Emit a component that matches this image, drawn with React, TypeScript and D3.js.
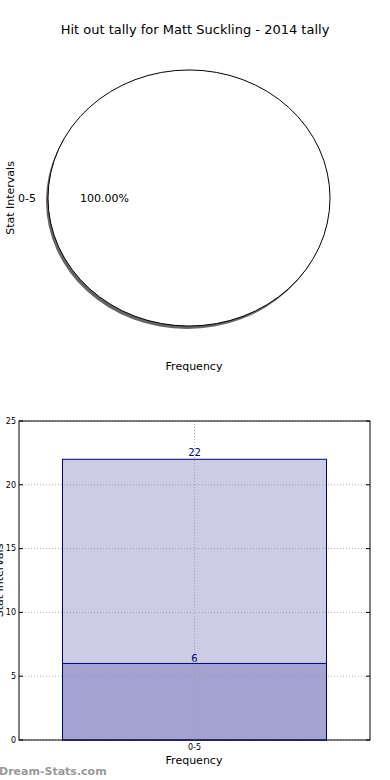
import React from 'react';
import * as d3 from 'd3';

const TITLE = 'Hit out tally for Matt Suckling - 2014 tally';
const intervals = ['0-5'];
const pieShares = [100];
const totalValues = [22];
const yearValues = [6];
const yTicks = [0, 5, 10, 15, 20, 25];

const FONT = 'DejaVu Sans, sans-serif';

export default function App() {
  // pie geometry
  const cx = 189;
  const cy = 198;
  const rx = 141;
  const ry = 128;

  const pie = d3.pie<number>().sort(null).startAngle(-Math.PI / 2).endAngle((3 * Math.PI) / 2);
  const slices = pie(pieShares);
  const arc = d3.arc<d3.PieArcDatum<number>>().innerRadius(0).outerRadius(rx);
  const total = d3.sum(pieShares);

  // bar geometry
  const plot = { left: 19, right: 370, top: 421, bottom: 740 };
  const x = d3.scaleBand().domain(intervals).range([plot.left, plot.right]).paddingInner(0).paddingOuter(0.1225);
  const xCenter = (d: string) => (x(d) ?? 0) + x.bandwidth() / 2;
  const y = d3.scaleLinear().domain([0, 25]).range([plot.bottom, plot.top]);
  const barW = 264;

  return (
    <svg width={390} height={780} style={{ position: 'absolute', left: 0, top: 0, background: '#fff' }} fontFamily={FONT}>
      <rect width={390} height={780} fill="#fff" />
      <text x={195} y={34} textAnchor="middle" fontSize={13} fill="#000">
        {TITLE}
      </text>

      {/* pie */}
      <g transform={`translate(${cx - 2},${cy + 3}) scale(1,${ry / rx})`}>
        {slices.map((s, i) => (
          <path key={'sh' + i} d={arc(s) ?? ''} fill="#666" />
        ))}
      </g>
      <g transform={`translate(${cx},${cy}) scale(1,${ry / rx})`}>
        {slices.map((s, i) => (
          <path key={i} d={arc(s) ?? ''} fill="#fff" stroke="#000" strokeWidth={1} vectorEffect="non-scaling-stroke" />
        ))}
      </g>
      {slices.map((s, i) => {
        const mid = (s.startAngle + s.endAngle) / 2 + Math.PI;
        const lx = cx + Math.sin(mid) * rx * 1.1;
        const ly = cy - Math.cos(mid) * ry * 1.1;
        const px = cx + Math.sin(mid) * rx * 0.6;
        const py = cy - Math.cos(mid) * ry * 0.6;
        return (
          <g key={'l' + i} fontSize={11} fill="#000">
            <text x={lx + 2} y={ly} dy="0.35em" textAnchor="end">
              {intervals[i]}
            </text>
            <text x={px} y={py} dy="0.35em" textAnchor="middle">
              {((s.data / total) * 100).toFixed(2)}%
            </text>
          </g>
        );
      })}
      <text transform={`translate(14,${cy}) rotate(-90)`} textAnchor="middle" fontSize={11}>
        Stat Intervals
      </text>
      <text x={194} y={370} textAnchor="middle" fontSize={11}>
        Frequency
      </text>

      {/* bar chart */}
      <g>
        {intervals.map((d, i) => (
          <g key={d}>
            <rect
              x={xCenter(d) - barW / 2}
              y={y(totalValues[i])}
              width={barW}
              height={y(0) - y(totalValues[i])}
              fill="#cccce5"
              stroke="#000080"
              strokeWidth={1}
            />
            <rect
              x={xCenter(d) - barW / 2}
              y={y(yearValues[i])}
              width={barW}
              height={y(0) - y(yearValues[i])}
              fill="#a3a3d1"
              stroke="#000080"
              strokeWidth={1}
            />
            <text x={xCenter(d)} y={y(totalValues[i]) - 3} textAnchor="middle" fontSize={10} fill="#000080">
              {totalValues[i]}
            </text>
            <text x={xCenter(d)} y={y(yearValues[i]) - 1} textAnchor="middle" fontSize={10} fill="#000080">
              {yearValues[i]}
            </text>
          </g>
        ))}
        {yTicks.map((t) => (
          <g key={t}>
            <line x1={plot.left} x2={plot.right} y1={y(t)} y2={y(t)} stroke="#9a9a9a" strokeDasharray="1,2" strokeOpacity={0.8} />
            <line x1={plot.left} x2={plot.left + 4} y1={y(t)} y2={y(t)} stroke="#000" />
            <line x1={plot.right - 4} x2={plot.right} y1={y(t)} y2={y(t)} stroke="#000" />
            <text x={plot.left - 3} y={y(t)} dy="0.35em" textAnchor="end" fontSize={8}>
              {t}
            </text>
          </g>
        ))}
        {intervals.map((d) => (
          <g key={'x' + d}>
            <line x1={xCenter(d)} x2={xCenter(d)} y1={plot.top} y2={plot.bottom} stroke="#9a9a9a" strokeDasharray="1,2" strokeOpacity={0.8} />
            <text x={xCenter(d)} y={plot.bottom + 10} textAnchor="middle" fontSize={8}>
              {d}
            </text>
          </g>
        ))}
        <rect x={plot.left} y={plot.top} width={plot.right - plot.left} height={plot.bottom - plot.top} fill="none" stroke="#000" strokeWidth={1} />
        <text x={194} y={764} textAnchor="middle" fontSize={11}>
          Frequency
        </text>
        <text transform={`translate(3,${(plot.top + plot.bottom) / 2}) rotate(-90)`} textAnchor="middle" fontSize={11}>
          Stat Intervals
        </text>
      </g>

      <text x={-1} y={775} fontSize={11} fontWeight="bold" fill="#999">
        Dream-Stats.com
      </text>
    </svg>
  );
}
